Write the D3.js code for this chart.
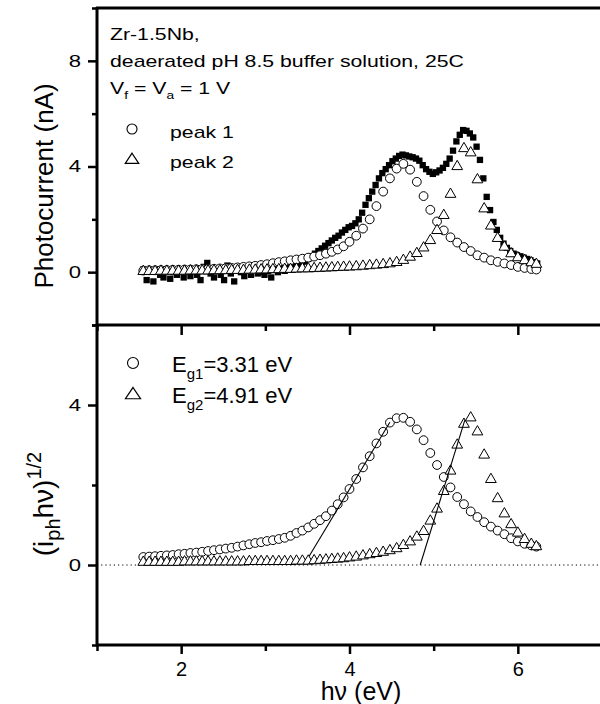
<!DOCTYPE html>
<html>
<head>
<meta charset="utf-8">
<script src="https://cdn.jsdelivr.net/npm/d3@7"></script>
<style>
    body { margin: 0; background: #fff; }
    svg { display: block; font-family: Arial, "Liberation Sans", sans-serif; }
</style>
</head>
<body>
<div id="chart"></div>
<script>
// photon energy (eV) of the fitted peak points
const energy = [1.55, 1.62, 1.69, 1.76, 1.83, 1.90, 1.97, 2.04,
    2.11, 2.18, 2.25, 2.32, 2.39, 2.46, 2.53, 2.60,
    2.67, 2.74, 2.81, 2.88, 2.95, 3.02, 3.09, 3.16,
    3.23, 3.30, 3.37, 3.44, 3.51, 3.58, 3.65, 3.72,
    3.79, 3.86, 3.93, 4.00, 4.08, 4.16, 4.24, 4.32,
    4.40, 4.48, 4.56, 4.64, 4.72, 4.80, 4.88, 4.96,
    5.04, 5.12, 5.20, 5.28, 5.36, 5.44, 5.52, 5.60,
    5.68, 5.76, 5.84, 5.92, 6.00, 6.08, 6.16, 6.22];

// top panel: photocurrent (nA) of the two peaks
const peak1Current = [0.06, 0.07, 0.07, 0.08, 0.08, 0.09, 0.09, 0.10,
    0.10, 0.11, 0.12, 0.12, 0.13, 0.14, 0.15, 0.16,
    0.18, 0.20, 0.22, 0.24, 0.27, 0.30, 0.34, 0.38,
    0.41, 0.45, 0.48, 0.51, 0.55, 0.59, 0.64, 0.70,
    0.77, 0.86, 0.98, 1.15, 1.38, 1.65, 2.00, 2.50,
    3.05, 3.55, 3.92, 4.10, 3.88, 3.42, 2.88, 2.36,
    1.92, 1.58, 1.32, 1.12, 0.95, 0.80, 0.64, 0.55,
    0.45, 0.39, 0.33, 0.27, 0.20, 0.16, 0.12, 0.10];

const peak2Current = [0.03, 0.03, 0.03, 0.04, 0.04, 0.04, 0.04, 0.04,
    0.05, 0.05, 0.05, 0.05, 0.06, 0.06, 0.06, 0.07,
    0.07, 0.07, 0.08, 0.08, 0.09, 0.09, 0.10, 0.10,
    0.11, 0.11, 0.12, 0.13, 0.13, 0.14, 0.15, 0.16,
    0.17, 0.18, 0.19, 0.20, 0.21, 0.23, 0.25, 0.27,
    0.29, 0.32, 0.37, 0.45, 0.57, 0.71, 0.92, 1.20,
    1.58, 2.15, 2.95, 4.00, 4.68, 4.52, 3.50, 2.40,
    1.75, 1.28, 0.95, 0.70, 0.55, 0.44, 0.36, 0.30];

// top panel: measured photocurrent [eV, nA]
const measured = [[1.55, 0.10], [1.59, -0.30], [1.63, 0.05], [1.67, -0.35], [1.71, 0.10], [1.75, -0.10],
    [1.79, -0.20], [1.83, 0.05], [1.87, -0.25], [1.91, 0.00], [1.95, -0.10], [1.99, 0.10],
    [2.03, -0.20], [2.07, 0.05], [2.11, -0.15], [2.15, 0.10], [2.19, -0.10], [2.23, -0.30],
    [2.27, 0.20], [2.31, 0.35], [2.35, -0.05], [2.39, -0.20], [2.43, 0.10], [2.47, -0.10],
    [2.51, -0.30], [2.55, 0.25], [2.59, -0.05], [2.63, -0.35], [2.67, 0.20], [2.71, 0.00],
    [2.75, -0.15], [2.79, 0.05], [2.83, -0.10], [2.87, 0.10], [2.91, -0.05], [2.95, 0.00],
    [2.99, -0.10], [3.03, 0.05], [3.07, -0.20], [3.11, 0.10], [3.15, 0.00], [3.19, 0.15],
    [3.23, 0.05], [3.27, 0.20], [3.31, 0.10], [3.35, 0.25], [3.39, 0.30], [3.43, 0.20],
    [3.47, 0.40], [3.51, 0.50], [3.55, 0.60], [3.59, 0.70], [3.63, 0.80], [3.67, 0.90],
    [3.71, 1.00], [3.75, 1.10], [3.79, 1.20], [3.83, 1.30], [3.87, 1.38], [3.91, 1.50],
    [3.95, 1.60], [3.99, 1.70], [4.03, 1.75], [4.07, 1.85], [4.11, 2.00], [4.15, 2.25],
    [4.19, 2.55], [4.23, 2.80], [4.27, 3.05], [4.31, 3.30], [4.35, 3.55], [4.39, 3.75],
    [4.43, 3.90], [4.47, 4.05], [4.51, 4.20], [4.55, 4.30], [4.59, 4.40], [4.63, 4.45],
    [4.67, 4.42], [4.71, 4.38], [4.75, 4.35], [4.79, 4.30], [4.83, 4.22], [4.87, 4.05],
    [4.91, 3.90], [4.95, 3.80], [4.99, 3.72], [5.03, 3.78], [5.07, 3.85], [5.11, 3.95],
    [5.15, 4.10], [5.19, 4.30], [5.23, 4.60], [5.27, 4.95], [5.31, 5.20], [5.35, 5.38],
    [5.39, 5.35], [5.43, 5.25], [5.47, 5.10], [5.51, 4.75], [5.55, 4.25], [5.59, 3.55],
    [5.63, 2.85], [5.67, 2.35], [5.71, 1.90], [5.75, 1.60], [5.79, 1.30], [5.83, 1.08],
    [5.87, 0.92], [5.91, 0.80], [5.95, 0.70], [5.99, 0.64], [6.03, 0.60], [6.07, 0.55],
    [6.11, 0.50], [6.15, 0.45], [6.19, 0.38], [6.23, 0.33]];

// bottom panel: (i_ph hv)^1/2 of the two peaks
const peak1Root = [0.20, 0.21, 0.22, 0.23, 0.24, 0.25, 0.27, 0.28,
    0.30, 0.31, 0.33, 0.35, 0.37, 0.39, 0.41, 0.43,
    0.46, 0.49, 0.52, 0.55, 0.57, 0.60, 0.62, 0.65,
    0.68, 0.73, 0.80, 0.86, 0.94, 1.03, 1.12, 1.22,
    1.36, 1.52, 1.69, 1.90, 2.15, 2.44, 2.72, 3.04,
    3.33, 3.56, 3.67, 3.68, 3.58, 3.39, 3.12, 2.80,
    2.50, 2.20, 1.94, 1.70, 1.52, 1.34, 1.20, 1.07,
    0.96, 0.86, 0.77, 0.67, 0.59, 0.53, 0.49, 0.46];

const peak2Root = [0.07, 0.07, 0.07, 0.07, 0.07, 0.07, 0.07, 0.08,
    0.08, 0.08, 0.08, 0.08, 0.08, 0.08, 0.08, 0.08,
    0.08, 0.08, 0.09, 0.09, 0.09, 0.09, 0.09, 0.09,
    0.09, 0.09, 0.10, 0.10, 0.10, 0.11, 0.12, 0.13,
    0.14, 0.15, 0.16, 0.18, 0.20, 0.23, 0.26, 0.29,
    0.32, 0.36, 0.41, 0.49, 0.58, 0.70, 0.84, 1.10,
    1.40, 1.84, 2.35, 3.00, 3.52, 3.68, 3.33, 2.75,
    2.14, 1.66, 1.28, 1.01, 0.80, 0.64, 0.52, 0.46];

// linear band gap fits [eV, value]
const gapFit1 = [[3.52, 0.22], [4.48, 3.57]];
const gapFit2 = [[4.84, 0.0], [5.37, 3.62]];
const zeroLine = [[1, 0], [7, 0]];

// ticks
const xMajorTicks = [2, 4, 6];
const xMinorTicks = [1, 3, 5, 7];
const topMajorTicks = [0, 4, 8];
const topMinorTicks = [-2, 2, 6, 10];
const bottomMajorTicks = [0, 4];
const bottomMinorTicks = [-2, 2, 6];

class BandGapVis {

    constructor(parentElement) {
        this.parentElement = parentElement;
        this.initVis();
    }

    initVis() {
        let vis = this;

        vis.width = 600;
        vis.height = 704;

        vis.svg = d3.select("#" + vis.parentElement).append("svg")
            .attr("width", vis.width)
            .attr("height", vis.height);

        // one energy axis for both panels, right border just off the page
        vis.xScale = d3.scaleLinear().domain([1, 7]).range([97, 602]);
        vis.yTop = d3.scaleLinear().domain([-2, 10]).range([325, 8]);
        vis.yBottom = d3.scaleLinear().domain([-2, 6]).range([645, 325]);

        vis.drawAxes();
        vis.drawTopPanel();
        vis.drawBottomPanel();
        vis.drawLabels();
    }

    drawAxes() {
        let vis = this;

        const styleAxis = (g, size) => {
            g.select(".domain").remove();
            g.attr("font-size", size).attr("font-family", "Arial, 'Liberation Sans', sans-serif");
            g.selectAll("line").attr("stroke", "#000").attr("stroke-width", 2.5);
            g.selectAll("text").attr("fill", "#000");
        };

        // left axes, ticks pointing out
        [[vis.yTop, topMajorTicks, topMinorTicks], [vis.yBottom, bottomMajorTicks, bottomMinorTicks]]
            .forEach(([scale, major, minor]) => {
                let minorG = vis.svg.append("g")
                    .attr("transform", "translate(97,0)")
                    .call(d3.axisLeft(scale).tickValues(minor).tickSize(5).tickFormat(""));
                styleAxis(minorG, 17);

                let majorG = vis.svg.append("g")
                    .attr("class", "y-axis")
                    .attr("transform", "translate(97,0)")
                    .call(d3.axisLeft(scale).tickValues(major).tickSize(9).tickPadding(7)
                        .tickFormat(d3.format("d")));
                styleAxis(majorG, 17);
                // the scan is stretched sideways, so are its labels
                majorG.selectAll("text")
                    .attr("x", -16 / 1.3)
                    .attr("transform", "scale(1.3,1)");
            });

        // divider between the panels, ticks into the lower panel
        let midMinor = vis.svg.append("g")
            .attr("transform", "translate(0,325)")
            .call(d3.axisBottom(vis.xScale).tickValues(xMinorTicks).tickSize(6).tickFormat(""));
        styleAxis(midMinor, 20);
        let midMajor = vis.svg.append("g")
            .attr("transform", "translate(0,325)")
            .call(d3.axisBottom(vis.xScale).tickValues(xMajorTicks).tickSize(10).tickFormat(""));
        styleAxis(midMajor, 20);

        // bottom axis
        let xMinor = vis.svg.append("g")
            .attr("transform", "translate(0,645)")
            .call(d3.axisBottom(vis.xScale).tickValues(xMinorTicks).tickSize(6).tickFormat(""));
        styleAxis(xMinor, 20);
        let xMajor = vis.svg.append("g")
            .attr("class", "x-axis")
            .attr("transform", "translate(0,645)")
            .call(d3.axisBottom(vis.xScale).tickValues(xMajorTicks).tickSize(9).tickPadding(8)
                .tickFormat(d3.format("d")));
        styleAxis(xMajor, 20);

        // frame
        const frame = [[97, 7, 97, 646], [96, 8, 600, 8], [96, 325, 600, 325], [96, 645, 600, 645]];
        vis.svg.selectAll(".frame")
            .data(frame)
            .enter()
            .append("line")
            .attr("class", "frame")
            .attr("x1", d => d[0]).attr("y1", d => d[1])
            .attr("x2", d => d[2]).attr("y2", d => d[3])
            .attr("stroke", "#000")
            .attr("stroke-width", 3);
    }

    drawTopPanel() {
        let vis = this;
        let x = vis.xScale, y = vis.yTop;

        // measured data, filled squares
        vis.svg.append("g").selectAll("path")
            .data(measured)
            .enter()
            .append("path")
            .attr("d", d3.symbol(d3.symbolSquare, 40))
            .attr("transform", d => `translate(${x(d[0])},${y(d[1])})`)
            .attr("fill", "#000");

        vis.drawCircles(peak1Current, y);
        vis.drawTriangles(peak2Current, y);
    }

    drawBottomPanel() {
        let vis = this;
        let x = vis.xScale, y = vis.yBottom;

        const line = d3.line().x(d => x(d[0])).y(d => y(d[1]));

        vis.svg.append("path")
            .attr("d", line(zeroLine))
            .attr("fill", "none")
            .attr("stroke", "#000")
            .attr("stroke-width", 1)
            .attr("stroke-dasharray", "1.2,3");

        vis.drawCircles(peak1Root, y);
        vis.drawTriangles(peak2Root, y);

        vis.svg.selectAll(".fit")
            .data([gapFit1, gapFit2])
            .enter()
            .append("path")
            .attr("class", "fit")
            .attr("d", line)
            .attr("fill", "none")
            .attr("stroke", "#000")
            .attr("stroke-width", 1.1);
    }

    drawCircles(values, y) {
        let vis = this;
        vis.svg.append("g").selectAll("circle")
            .data(values)
            .enter()
            .append("circle")
            .attr("cx", (d, i) => vis.xScale(energy[i]))
            .attr("cy", d => y(d))
            .attr("r", 4.4)
            .attr("fill", "#fff")
            .attr("stroke", "#000")
            .attr("stroke-width", 1);
    }

    drawTriangles(values, y) {
        let vis = this;
        vis.svg.append("g").selectAll("path")
            .data(values)
            .enter()
            .append("path")
            .attr("d", d3.symbol(d3.symbolTriangle, 50))
            .attr("transform", (d, i) => `translate(${vis.xScale(energy[i])},${y(d)})`)
            .attr("fill", "#fff")
            .attr("stroke", "#000")
            .attr("stroke-width", 1);
    }

    drawLabels() {
        let vis = this;

        // stretched text, like the scanned figure
        const label = (x, y, size, sx) => vis.svg.append("text")
            .attr("transform", `translate(${x},${y}) scale(${sx},1)`)
            .attr("font-size", size)
            .attr("fill", "#000");

        label(110, 40, 17, 1.25).text("Zr-1.5Nb,");
        label(110, 67, 17, 1.25).text("deaerated pH 8.5 buffer solution, 25C");

        let v = label(110, 94, 17, 1.25);
        v.append("tspan").text("V");
        v.append("tspan").attr("font-size", 11).attr("dy", 5).text("f");
        v.append("tspan").attr("dy", -5).text(" = V");
        v.append("tspan").attr("font-size", 11).attr("dy", 5).text("a");
        v.append("tspan").attr("dy", -5).text(" = 1 V");

        label(170, 138, 17, 1.25).text("peak 1");
        label(170, 168, 17, 1.25).text("peak 2");

        // lower legend is set larger
        [["g1", "=3.31 eV", 372], ["g2", "=4.91 eV", 403]].forEach(([sub, rest, yPos]) => {
            let t = label(172, yPos, 22, 1);
            t.append("tspan").text("E");
            t.append("tspan").attr("font-size", 15).attr("dy", 7).text(sub);
            t.append("tspan").attr("dy", -7).text(rest);
        });

        // legend markers
        vis.svg.selectAll(".legend-circle")
            .data([[132, 129, 5], [133, 363, 5.5]])
            .enter()
            .append("circle")
            .attr("class", "legend-circle")
            .attr("cx", d => d[0]).attr("cy", d => d[1]).attr("r", d => d[2])
            .attr("fill", "#fff").attr("stroke", "#000").attr("stroke-width", 1.1);

        vis.svg.selectAll(".legend-tri")
            .data([[132, 160, 60], [133, 395, 75]])
            .enter()
            .append("path")
            .attr("class", "legend-tri")
            .attr("d", d => d3.symbol(d3.symbolTriangle, d[2])())
            .attr("transform", d => `translate(${d[0]},${d[1]}) scale(1.15,1)`)
            .attr("fill", "#fff").attr("stroke", "#000").attr("stroke-width", 1.1);

        // axis titles
        vis.svg.append("text")
            .attr("transform", "translate(53,186) rotate(-90)")
            .attr("text-anchor", "middle")
            .attr("font-size", 26)
            .text("Photocurrent (nA)");

        let yt = vis.svg.append("text")
            .attr("transform", "translate(53,504) rotate(-90)")
            .attr("text-anchor", "middle")
            .attr("font-size", 28);
        yt.append("tspan").text("(i");
        yt.append("tspan").attr("font-size", 20).attr("dy", 7).text("ph");
        yt.append("tspan").attr("dy", -7).text("hν)");
        yt.append("tspan").attr("font-size", 20).attr("dy", -12).text("1/2");

        // sits low, as in the original where it runs off the page
        vis.svg.append("text")
            .attr("x", 361)
            .attr("y", 700)
            .attr("text-anchor", "middle")
            .attr("font-size", 25)
            .text("hν (eV)");
    }
}

new BandGapVis("chart");
</script>
</body>
</html>
